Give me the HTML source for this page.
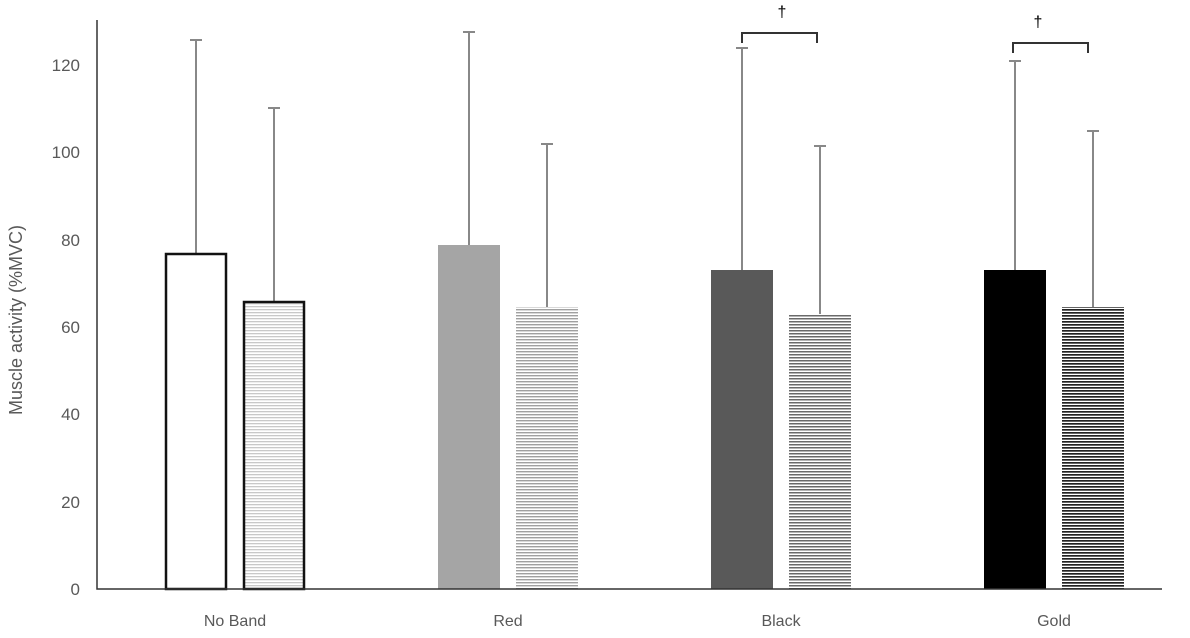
<!DOCTYPE html><html><head><style>body{margin:0;background:#fff}</style></head><body>
<svg width="1190" height="633" xmlns="http://www.w3.org/2000/svg" font-family="Liberation Sans, sans-serif">
<defs>
<pattern id="h1" width="4" height="3" patternUnits="userSpaceOnUse"><rect width="4" height="3" fill="#fff"/><rect width="4" height="1.3" fill="#c8c8c8"/></pattern>
<pattern id="h2" width="4" height="3" patternUnits="userSpaceOnUse"><rect width="4" height="3" fill="#fff"/><rect width="4" height="1.4" fill="#a0a0a0"/></pattern>
<pattern id="h3" width="4" height="3" patternUnits="userSpaceOnUse"><rect width="4" height="3" fill="#fff"/><rect width="4" height="1.5" fill="#6a6a6a"/></pattern>
<pattern id="h4" width="4" height="3" patternUnits="userSpaceOnUse"><rect width="4" height="3" fill="#fff"/><rect width="4" height="1.7" fill="#222"/></pattern>
</defs>
<g fill="#595959" font-size="17" text-anchor="end">
<text x="80" y="595">0</text><text x="80" y="508">20</text><text x="80" y="420">40</text><text x="80" y="333">60</text><text x="80" y="246">80</text><text x="80" y="158">100</text><text x="80" y="71">120</text>
</g>
<text transform="translate(22,320) rotate(-90)" fill="#595959" font-size="18" text-anchor="middle">Muscle activity (%MVC)</text>
<g stroke="#888" stroke-width="2">
<path d="M196 253V40M190 40h12M274 301V108M268 108h12M469 245V32M463 32h12M547 307V144M541 144h12M742 270V48M736 48h12M820 314V146M814 146h12M1015 270V61M1009 61h12M1093 307V131M1087 131h12"/>
</g>
<rect x="166" y="254" width="60" height="335" fill="#fff" stroke="#111" stroke-width="2.5"/>
<rect x="244" y="302" width="60" height="287" fill="url(#h1)" stroke="#111" stroke-width="2.5"/>
<rect x="438" y="245" width="62" height="344" fill="#a5a5a5"/>
<rect x="516" y="307" width="62" height="282" fill="url(#h2)"/>
<rect x="711" y="270" width="62" height="319" fill="#595959"/>
<rect x="789" y="314" width="62" height="275" fill="url(#h3)"/>
<rect x="984" y="270" width="62" height="319" fill="#000"/>
<rect x="1062" y="307" width="62" height="282" fill="url(#h4)"/>
<path d="M97 20V589H1162" fill="none" stroke="#333" stroke-width="1.5"/>
<path d="M742 43V33H817V43M1013 53V43H1088V53" fill="none" stroke="#333" stroke-width="2"/>
<text x="782" y="17" font-size="16" text-anchor="middle">†</text>
<text x="1038" y="27" font-size="16" text-anchor="middle">†</text>
<g fill="#595959" font-size="16" text-anchor="middle">
<text x="235" y="626">No Band</text><text x="508" y="626">Red</text><text x="781" y="626">Black</text><text x="1054" y="626">Gold</text>
</g>
</svg></body></html>
